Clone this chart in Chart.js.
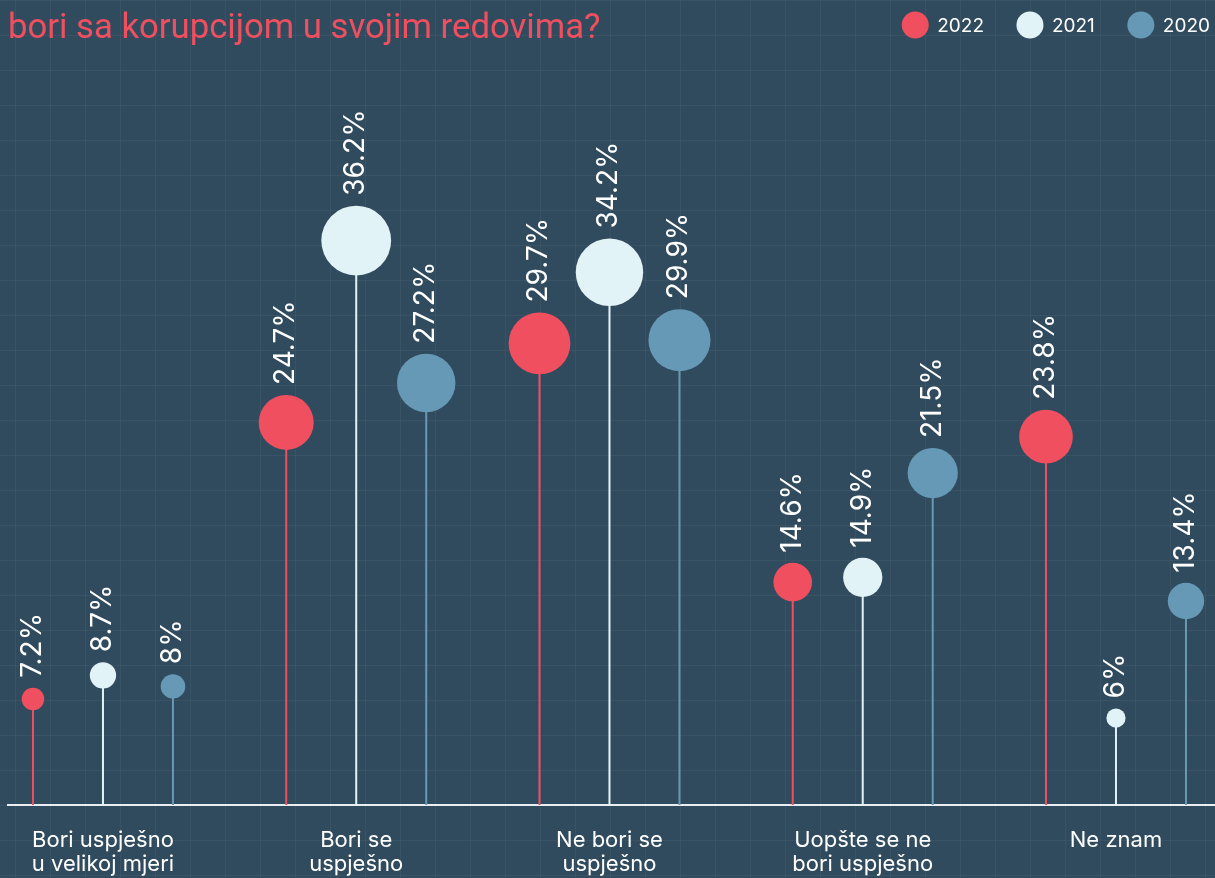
<!DOCTYPE html>
<html>
<head>
<meta charset="utf-8">
<title>Lollipop chart</title>
<script src="https://cdn.jsdelivr.net/npm/chart.js@4"></script>
<style>
  html, body { margin: 0; padding: 0; background: #314b5e; overflow: hidden; }
  #wrap { width: 1215px; height: 878px; position: relative; }
</style>
</head>
<body>
<div id="wrap"><canvas id="c" width="1215" height="878"></canvas></div>
<script>
// ---------- data ----------
const titleText = "bori sa korupcijom u svojim redovima?";
const categories = [
  ["Bori uspješno", "u velikoj mjeri"],
  ["Bori se", "uspješno"],
  ["Ne bori se", "uspješno"],
  ["Uopšte se ne", "bori uspješno"],
  ["Ne znam"]
];
const seriesNames = ["2022", "2021", "2020"];
const values2022 = [7.2, 24.7, 29.7, 14.6, 23.8];
const values2021 = [8.7, 36.2, 34.2, 14.9, 6];
const values2020 = [8, 27.2, 29.9, 21.5, 13.4];

// ---------- styles / layout ----------
const seriesValues = [values2022, values2021, values2020];
const seriesColors = ["#ef4f5f", "#e2f3f7", "#6599b5"];
const BG = "#314b5e";
const GROUP_OFFSET = 0.2764;          // spread of the three lollipops inside a category
const Y_MIN = 0.5, Y_MAX = 51.42;
const radiusOf = v => 7.1 * Math.sqrt(v) - 7.8;

const pointsFor = s => seriesValues[s].map((v, i) => ({ x: i + (s - 1) * GROUP_OFFSET, y: v }));

const stemDatasets = seriesNames.map((name, s) => ({
  type: "scatter",
  label: name + " stems",
  data: pointsFor(s).flatMap(p => [{ x: p.x, y: Y_MIN }, { x: p.x, y: p.y }, { x: p.x, y: null }]),
  showLine: true,
  spanGaps: false,
  borderColor: seriesColors[s],
  borderWidth: 2,
  pointRadius: 0,
  pointHoverRadius: 0,
  order: 2
}));

const dotDatasets = seriesNames.map((name, s) => ({
  type: "scatter",
  label: name,
  isDots: true,
  data: pointsFor(s),
  backgroundColor: seriesColors[s],
  borderWidth: 0,
  pointRadius: ctx => radiusOf(ctx.raw.y),
  pointHoverRadius: ctx => radiusOf(ctx.raw.y),
  clip: false,
  order: 1
}));

const bgPlugin = {
  id: "bgGrid",
  beforeDraw(chart) {
    const { ctx, width, height } = chart;
    ctx.save();
    ctx.fillStyle = BG;
    ctx.fillRect(0, 0, width, height);
    ctx.fillStyle = "rgba(255,255,255,0.045)";
    for (let x = 15; x < width; x += 35) ctx.fillRect(x, 0, 1, height);
    for (let y = 0; y < height; y += 35) ctx.fillRect(0, y, width, 1);
    ctx.restore();
  }
};

const labelPlugin = {
  id: "valueLabels",
  afterDatasetsDraw(chart) {
    const { ctx } = chart;
    ctx.save();
    ctx.fillStyle = "#ffffff";
    ctx.font = "400 28px Inter";
    ctx.textAlign = "left";
    ctx.textBaseline = "alphabetic";
    chart.data.datasets.forEach((ds, di) => {
      if (!ds.isDots) return;
      const meta = chart.getDatasetMeta(di);
      meta.data.forEach((el, i) => {
        const v = ds.data[i].y;
        const r = el.options.radius;
        ctx.save();
        ctx.translate(el.x + 8, el.y - r - 10);
        ctx.rotate(-Math.PI / 2);
        ctx.fillText(String(v) + "%", 0, 0);
        ctx.restore();
      });
    });
    ctx.restore();
  }
};

const headerPlugin = {
  id: "header",
  afterDraw(chart) {
    const { ctx, width } = chart;
    ctx.save();
    // title
    ctx.fillStyle = seriesColors[0];
    ctx.font = "400 34.7px Roboto";
    ctx.textAlign = "left";
    ctx.textBaseline = "alphabetic";
    ctx.fillText(titleText, 8, 38);
    // legend (right aligned)
    ctx.font = "400 19px Inter";
    ctx.textBaseline = "middle";
    const r = 13.5, gapText = 8.5, gapItem = 32.5, cy = 25;
    let x = width - 5;
    const items = seriesNames.map((n, s) => ({ n, s, w: ctx.measureText(n).width }));
    for (let k = items.length - 1; k >= 0; k--) {
      const it = items[k];
      const tx = x - it.w;
      const cx = tx - gapText - r;
      ctx.fillStyle = "#ffffff";
      ctx.fillText(it.n, tx, cy + 1);
      ctx.fillStyle = seriesColors[it.s];
      ctx.beginPath();
      ctx.arc(cx, cy, r, 0, Math.PI * 2);
      ctx.fill();
      x = cx - r - gapItem;
    }
    ctx.restore();
  }
};

new Chart(document.getElementById("c"), {
  type: "scatter",
  data: { datasets: stemDatasets.concat(dotDatasets) },
  options: {
    responsive: false,
    animation: false,
    events: [],
    layout: { autoPadding: false, padding: { left: 8, right: 0, top: 0, bottom: 0 } },
    plugins: { legend: { display: false }, tooltip: { enabled: false }, title: { display: false } },
    scales: {
      x: {
        type: "linear",
        min: -0.375,
        max: 4.391,
        bounds: "data",
        offset: false,
        grid: { display: false, drawTicks: false },
        border: { display: true, color: "#e8eef1", width: 2 },
        afterBuildTicks: scale => { scale.ticks = categories.map((c, i) => ({ value: i })); },
        afterFit: scale => { scale.height = 73; },
        ticks: {
          autoSkip: false,
          maxRotation: 0,
          includeBounds: false,
          padding: 23,
          color: "#ffffff",
          font: { family: "Inter", size: 22, lineHeight: 1.11 },
          callback: v => categories[v] || ""
        }
      },
      y: {
        display: false,
        min: Y_MIN,
        max: Y_MAX,
        bounds: "data"
      }
    }
  },
  plugins: [bgPlugin, labelPlugin, headerPlugin]
});
</script>
</body>
</html>
